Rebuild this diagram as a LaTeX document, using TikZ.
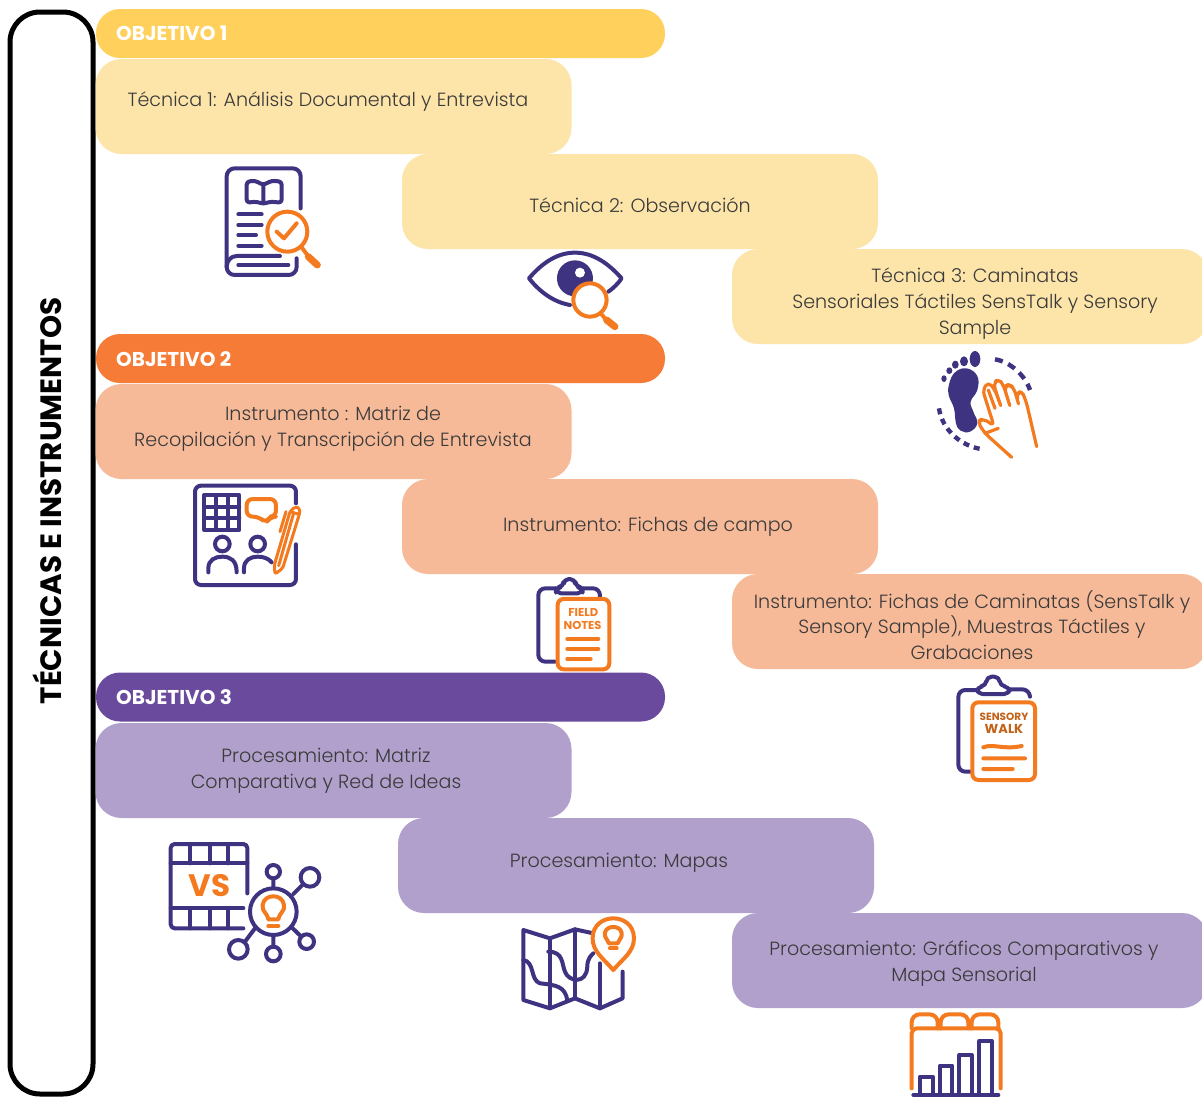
\documentclass[tikz,border=0pt]{standalone}
\usepackage{fontspec}
\setmainfont{Poppins Light}[BoldFont=Poppins Bold]
\definecolor{amarilloA}{HTML}{FFD15C}
\definecolor{amarilloB}{HTML}{FDE5AA}
\definecolor{naranjaA}{HTML}{F67B36}
\definecolor{naranjaB}{HTML}{F7BA98}
\definecolor{moradoA}{HTML}{6A4A9C}
\definecolor{moradoB}{HTML}{B1A0CC}
\definecolor{trazoN}{HTML}{3E3380}
\definecolor{trazoO}{HTML}{F47A20}
\definecolor{textoC}{HTML}{3A3A3A}
\tikzset{
  objetivo/.style={rounded corners=24pt, minimum width=569pt, minimum height=49pt, inner sep=0pt},
  caja/.style={rounded corners=26pt, minimum width=476pt, minimum height=95pt, inner sep=0pt},
  objtext/.style={white, anchor=west, inner sep=0pt, font=\bfseries\fontsize{20}{24}\selectfont},
  cajatext/.style={textoC, align=center, inner sep=0pt, font=\fontsize{19.1}{25.7}\selectfont},
  icono/.style={x=0.3333pt, y=-0.3333pt, line width=4pt, line cap=round, line join=round},
  lineaN/.style={draw=trazoN},
  lineaO/.style={draw=trazoO},
  rotulo/.style={inner sep=0pt, text=trazoO, font=\bfseries\fontsize{11.5}{12}\selectfont}
}
\begin{document}
\begin{tikzpicture}[x=1pt, y=-1pt]
    \clip (0,0) rectangle (1202,1096);
    \useasboundingbox (0,0) rectangle (1202,1096);
    \fill[white] (0,0) rectangle (1202,1096);
    % marco lateral
    \draw[line width=5pt, rounded corners=30pt] (10,12) rectangle (93,1094);
    \node[rotate=90, inner sep=0pt, font=\bfseries\fontsize{29.4}{32}\selectfont] (lateral) at (47,501) {TÉCNICAS E INSTRUMENTOS};
    % objetivo 1
    \node[caja, fill=amarilloB] (tec1) at (333.5,106.5) {};
    \node[caja, fill=amarilloB] (tec2) at (640,201.5) {};
    \node[caja, fill=amarilloB] (tec3) at (970,296.5) {};
    \node[objetivo, fill=amarilloA] (obj1) at (380.5,33.5) {};
    \node[objtext] (obj1t) at (116,33) {OBJETIVO 1};
    \node[cajatext] (tec1t) at (328,102) {Técnica 1: Análisis Documental y Entrevista};
    \node[cajatext] (tec2t) at (640,205) {Técnica 2: Observación};
    \node[cajatext] (tec3t) at (975,303.5) {Técnica 3: Caminatas\\Sensoriales Táctiles SensTalk y Sensory\\Sample};
    % objetivo 2
    \node[caja, fill=naranjaB] (ins1) at (333.5,431.5) {};
    \node[caja, fill=naranjaB] (ins2) at (640,526.5) {};
    \node[caja, fill=naranjaB] (ins3) at (970,621.5) {};
    \node[objetivo, fill=naranjaA] (obj2) at (380.5,358.5) {};
    \node[objtext] (obj2t) at (116,359) {OBJETIVO 2};
    \node[cajatext] (ins1t) at (333,428.5) {Instrumento : Matriz de\\Recopilación y Transcripción de Entrevista};
    \node[cajatext] (ins2t) at (648,527) {Instrumento: Fichas de campo};
    \node[cajatext] (ins3t) at (972,625) {Instrumento: Fichas de Caminatas (SensTalk y\\Sensory Sample), Muestras Táctiles y\\Grabaciones};
    % objetivo 3
    \node[caja, fill=moradoB] (pro1) at (333.5,770.5) {};
    \node[caja, fill=moradoB] (pro2) at (636,865.5) {};
    \node[caja, fill=moradoB] (pro3) at (970,960.5) {};
    \node[objetivo, fill=moradoA] (obj3) at (380.5,697) {};
    \node[objtext] (obj3t) at (116,697) {OBJETIVO 3};
    \node[cajatext] (pro1t) at (326,770.5) {Procesamiento: Matriz\\Comparativa y Red de Ideas};
    \node[cajatext] (pro2t) at (619,863) {Procesamiento: Mapas};
    \node[cajatext] (pro3t) at (964,963.5) {Procesamiento: Gráficos Comparativos y\\Mapa Sensorial};
    % libro
    \begin{scope}[shift={(180,150)}, icono]
      \draw[lineaN, rounded corners=8pt] (362,175) -- (362,55) -- (140,55) -- (140,375) -- (350,375) -- (350,325);
      \draw[lineaN] (300,318) -- (170,318) to[out=180, in=90] (140,350);
      \draw[lineaN] (175,345) -- (325,345);
      \draw[lineaN, rounded corners=3pt] (200,158) -- (200,95) -- (225,92) -- (250,105) -- (275,92) -- (305,95) -- (305,158) -- (270,155) -- (250,162) -- (230,155) -- cycle (250,105) -- (250,160);
      \foreach \yy/\xx in {193/245, 225/245, 255/228, 287/245} \draw[lineaN] (175,\yy) -- (\xx,\yy);
      \draw[lineaO, fill=white] (322,245) circle (60);
      \draw[lineaO] (290,245) -- (312,265) -- (350,220);
      \draw[lineaO] (365,292) -- (382,315);
      \draw[lineaO, line width=7pt] (385,320) -- (412,345);
    \end{scope}
    % ojo
    \begin{scope}[shift={(180,150)}, icono]
      \draw[lineaN] (1170,465) .. controls (1115,455) and (1075,420) .. (1047,385) .. controls (1090,335) and (1135,308) .. (1185,308) .. controls (1240,308) and (1285,340) .. (1325,385) .. controls (1315,400) and (1300,415) .. (1285,425);
      \fill[trazoN] (1185,385) circle (54);
      \fill[white] (1200,368) circle (15);
      \draw[lineaO, fill=white] (1230,450) circle (50);
      \draw[lineaO] (1262,490) -- (1275,505);
      \draw[lineaO, line width=7pt] (1280,510) -- (1305,530);
    \end{scope}
    % pie y mano
    \begin{scope}[shift={(920,340)}, icono]
      \fill[trazoN] plot[smooth cycle, tension=0.7] coordinates {(88,130) (105,97) (140,85) (172,108) (172,150) (152,185) (160,215) (172,250) (150,275) (122,272) (108,250) (102,205) (86,165)};
      \fill[trazoN] (165,57) ellipse (16 and 24) (132,64) ellipse (12 and 15) (106,74) ellipse (10 and 12) (88,92) ellipse (9 and 10) (72,116) ellipse (8 and 10);
      \draw[lineaN, dash pattern=on 8pt off 6pt, line width=4.4pt, line cap=butt] (225,58) .. controls (270,65) and (315,105) .. (330,150);
      \draw[lineaN, dash pattern=on 6pt off 5pt, line width=4.4pt, line cap=butt] (57,205) .. controls (65,265) and (120,320) .. (190,328);
      \draw[lineaO, line width=3.2pt, rounded corners=5pt] (275,352) -- (195,280) -- (172,245) -- (190,235) -- (222,258) -- (188,150) -- (205,125) -- (225,150) -- (245,205) -- (220,132) -- (235,115) -- (250,135) -- (272,205) -- (252,140) -- (268,132) -- (282,145) -- (298,200) -- (288,165) -- (305,150) -- (320,190) -- (350,320);
      \draw[lineaO, line width=3.2pt] (195,280) -- (235,265) (205,150) -- (225,205);
    \end{scope}
    % matriz
    \begin{scope}[shift={(180,475)}, icono]
      \draw[lineaN, rounded corners=6pt] (348,85) -- (348,32) -- (45,32) -- (45,330) -- (348,330) -- (348,208);
      \draw[lineaN] (73,60) rectangle (178,165);
      \foreach \pp in {108,143} {
        \draw[lineaN] (\pp,60) -- (\pp,165);
        \draw[lineaN] (73,\pp-13) -- (178,\pp-13);
      }
      \draw[lineaO, rounded corners=6pt] (200,72) -- (288,72) -- (288,125) -- (270,125) -- (258,145) -- (238,125) -- (200,125) -- cycle;
      \draw[lineaN] (127,207) circle (22) (233,207) circle (22);
      \draw[lineaN] (85,292) -- (85,280) .. controls (85,255) and (105,245) .. (127,245) .. controls (150,245) and (170,255) .. (170,292);
      \draw[lineaN] (192,292) -- (192,280) .. controls (192,255) and (212,245) .. (233,245) .. controls (250,245) and (265,250) .. (275,262);
      \draw[lineaO, line width=3pt, rounded corners=2pt] (285,297) -- (283,270) -- (330,110) -- (345,95) -- (360,100) -- (358,118) -- (308,280) -- cycle;
      \draw[lineaO, line width=3pt] (296,272) -- (340,118) (330,110) -- (358,118) (318,110) -- (300,170);
    \end{scope}
    % notas de campo
    \begin{scope}[shift={(180,475)}, icono]
      \draw[lineaN, rounded corners=7pt] (1125,560) -- (1075,560) -- (1075,340) -- (1128,340);
      \draw[lineaN, rounded corners=5pt] (1128,355) -- (1128,338) -- (1150,335) -- (1152,312) -- (1185,312) -- (1187,335) -- (1208,338) -- (1208,355) -- cycle;
      \draw[lineaN, rounded corners=7pt] (1208,340) -- (1260,340) -- (1260,365);
      \draw[lineaO, rounded corners=6pt] (1133,372) rectangle (1288,583);
      \node[rotulo] (campoA) at (1210,412) {FIELD};
      \node[rotulo] (campoB) at (1208,451) {NOTES};
      \draw[lineaO] (1162,492) -- (1255,492) (1162,522) -- (1255,522) (1162,552) -- (1232,552);
    \end{scope}
    % caminata
    \begin{scope}[shift={(940,670)}, icono]
      \draw[lineaN, rounded corners=7pt] (90,305) -- (55,305) -- (55,60) -- (112,60);
      \draw[lineaN, rounded corners=5pt] (112,72) -- (112,50) -- (138,48) -- (140,20) -- (178,20) -- (180,48) -- (208,50) -- (208,72) -- cycle;
      \draw[lineaN, rounded corners=7pt] (208,58) -- (268,58) -- (270,80);
      \draw[lineaO, rounded corners=6pt] (97,97) rectangle (285,330);
      \node[rotulo, text=trazoO!80!black, font=\bfseries\fontsize{10.5}{12}\selectfont] (walkA) at (192,140) {SENSORY};
      \node[rotulo, text=trazoO!80!black, font=\bfseries\fontsize{13}{12}\selectfont] (walkB) at (192,178) {WALK};
      \draw[lineaO] (130,232) .. controls (160,220) and (190,240) .. (245,228) (130,265) -- (255,265) (130,297) -- (218,297);
    \end{scope}
    % pelicula y red
    \begin{scope}[shift={(160,830)}, icono]
      \draw[lineaN, rounded corners=4pt] (262,190) -- (262,42) -- (32,42) -- (32,295) -- (250,295);
      \draw[lineaN] (32,100) -- (262,100) (32,235) -- (250,235);
      \foreach \xx in {90,150,205} \draw[lineaN] (\xx,42) -- (\xx,100) (\xx,235) -- (\xx,295);
      \node[rotulo, font=\bfseries\fontsize{31}{34}\selectfont] (vsA) at (148,168) {VS};
      \draw[lineaN] (340,245) circle (70);
      \draw[lineaN] (340,125) circle (20) (450,142) circle (28) (440,335) circle (22) (340,372) circle (22) (235,358) circle (28);
      \draw[lineaN] (340,147) -- (340,175) (430,162) -- (400,192) (395,292) -- (422,318) (340,315) -- (340,350) (285,295) -- (255,335);
      \draw[lineaO] (325,268) .. controls (320,245) and (305,245) .. (308,225) .. controls (312,190) and (368,190) .. (372,225) .. controls (375,245) and (360,245) .. (355,268) -- cycle;
      \draw[lineaO] (325,288) -- (355,288);
    \end{scope}
    % mapa
    \begin{scope}[shift={(160,830)}, icono]
      \draw[lineaN] (1300,310) -- (1245,298) -- (1170,325) -- (1090,300) -- (1090,510) -- (1170,535) -- (1245,505) -- (1320,535) -- (1388,505) -- (1388,425);
      \draw[lineaN] (1170,325) -- (1170,535) (1245,298) -- (1245,505) (1320,400) -- (1320,535);
      \draw[lineaN] (1090,390) .. controls (1125,395) and (1110,450) .. (1140,460) .. controls (1190,465) and (1215,470) .. (1222,510);
      \draw[lineaN] (1165,365) .. controls (1210,365) and (1205,400) .. (1215,425) .. controls (1225,455) and (1280,465) .. (1282,410) .. controls (1282,385) and (1295,375) .. (1300,370);
      \draw[lineaO, fill=white] (1360,420) .. controls (1330,385) and (1298,365) .. (1298,325) .. controls (1298,245) and (1422,245) .. (1422,325) .. controls (1422,365) and (1390,385) .. (1360,420) -- cycle;
      \draw[lineaO] (1347,340) .. controls (1340,325) and (1332,320) .. (1335,308) .. controls (1340,285) and (1380,285) .. (1385,308) .. controls (1388,320) and (1380,325) .. (1373,340) -- cycle;
      \draw[lineaO] (1350,355) -- (1370,355);
    \end{scope}
    % grafico
    \begin{scope}[shift={(890,1005)}, icono]
      \draw[lineaO, rounded corners=5pt] (65,250) -- (65,70) -- (332,70) -- (332,250);
      \draw[lineaO, rounded corners=8pt] (65,70) -- (65,28) -- (143,28) -- (143,70) (152,70) -- (152,28) -- (235,28) -- (235,70) (245,70) -- (245,28) -- (325,28) -- (325,70);
      \draw[lineaN] (90,270) -- (90,215) -- (128,215) -- (128,270) (150,270) -- (150,182) -- (187,182) -- (187,270) (208,270) -- (208,150) -- (245,150) -- (245,270) (268,270) -- (268,108) -- (305,108) -- (305,270);
      \draw[lineaN] (70,270) -- (325,270);
    \end{scope}
\end{tikzpicture}
\end{document}
